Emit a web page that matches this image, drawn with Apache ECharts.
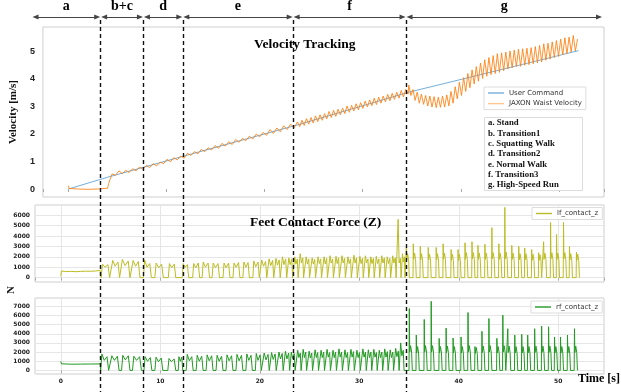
<!DOCTYPE html>
<html>
<head>
<meta charset="utf-8">
<title>Velocity Tracking</title>
<script src="https://cdn.jsdelivr.net/npm/echarts@6/dist/echarts.min.js"></script>
<style>
  html, body { margin: 0; padding: 0; background: #fff; }
  #chart { width: 621px; height: 392px; }
</style>
</head>
<body>
<div id="chart"></div>
<script>
// phases (s) and their names
const phaseBounds = [4.0, 8.3, 12.26, 23.35, 34.7];
const phaseLabels = ['a', 'b+c', 'd', 'e', 'f', 'g'];
const phaseNotes = ['a. Stand', 'b. Transition1', 'c. Squatting Walk', 'd. Transition2',
                    'e. Normal Walk', 'f. Transition3', 'g. High-Speed Run'];
const arrowFrom = -2.55, arrowTo = 54.1;

// user command (blue)
const cmdTime = [0, 4.0, 12.3, 23.35, 34.7, 52.0];
const cmdVel  = [0, 0.43, 1.25, 2.33, 3.52, 5.03];

// waist velocity (orange), stand part as [t, v], then evenly spaced runs
const waistStand = [[0, 0.12], [0.06, 0.02], [1, 0.0], [2, -0.01], [3, 0.0], [4.0, 0.03]];
const waistWalkStart = 4.1, waistWalkStep = 0.35;
const waistWalk = [
  0.20, 0.55, 0.50, 0.66, 0.56, 0.68, 0.60, 0.74, 0.66, 0.80,
  0.72, 0.86, 0.78, 0.92, 0.84, 0.98, 0.92, 1.08, 0.99, 1.14,
  1.06, 1.20, 1.12, 1.30, 1.22, 1.36, 1.28, 1.44, 1.36, 1.50,
  1.42, 1.58, 1.48, 1.66, 1.56, 1.72, 1.62, 1.80, 1.70, 1.84,
  1.76, 1.92, 1.82, 2.00, 1.90, 2.06, 1.95, 2.16, 2.02, 2.22,
  2.08, 2.30, 2.16, 2.36, 2.22
];
const waistTransStart = 23.35, waistTransStep = 0.23;
const waistTrans = [
  2.44, 2.27, 2.50, 2.31, 2.56, 2.36, 2.60, 2.40, 2.66, 2.45,
  2.70, 2.50, 2.74, 2.55, 2.82, 2.60, 2.86, 2.64, 2.90, 2.70,
  2.94, 2.74, 3.02, 2.79, 3.04, 2.84, 3.10, 2.88, 3.14, 2.93,
  3.20, 2.98, 3.24, 3.03, 3.30, 3.07, 3.34, 3.12, 3.38, 3.17,
  3.44, 3.21, 3.48, 3.26, 3.52, 3.30, 3.58, 3.35, 3.62, 3.45
];
const waistRunStart = 34.7, waistRunStep = 0.215;
const waistRun = [
  3.78, 3.40, 3.62, 3.22, 3.52, 3.12, 3.45, 3.08, 3.40, 3.02,
  3.38, 2.98, 3.36, 2.96, 3.34, 2.97, 3.38, 2.98, 3.42, 3.02,
  3.55, 3.12, 3.72, 3.28, 3.88, 3.40, 4.05, 3.55, 4.20, 3.68,
  4.33, 3.82, 4.45, 3.92, 4.58, 4.02, 4.70, 4.10, 4.78, 4.16,
  4.85, 4.20, 4.92, 4.24, 4.95, 4.30, 4.98, 4.36, 5.02, 4.40,
  5.05, 4.45, 5.08, 4.46, 5.10, 4.50, 5.12, 4.52, 5.14, 4.55,
  5.18, 4.58, 5.22, 4.62, 5.28, 4.68, 5.30, 4.72, 5.35, 4.78,
  5.40, 4.82, 5.45, 4.88, 5.50, 4.92, 5.52, 4.98, 5.58, 5.02,
  5.45
];

// contact forces (N)
// stand: [t, f]; walk steps: [on, off, peak1, dip, peak2]; run steps: [on, peak, dip, hump]
const lfStand = [[0, 120], [0.05, 640], [0.5, 580], [1, 600], [1.5, 570], [2, 600], [2.5, 620], [3, 610], [3.5, 640], [3.95, 690]];
const lfWalk = [
  [4.05, 4.9, 1300, 1000, 1250], [5.1, 5.9, 1650, 1100, 1500], [6.05, 6.95, 1750, 1150, 1600],
  [7.15, 7.95, 1650, 1100, 1550], [8.3, 9.1, 1700, 1000, 1350], [9.45, 10.3, 1400, 950, 1300],
  [10.8, 11.55, 1350, 950, 1300], [12.2, 12.85, 1350, 1000, 1250], [13.25, 13.95, 1350, 950, 1400],
  [14.2, 14.95, 1500, 1000, 1400], [15.2, 15.95, 1400, 950, 1350], [16.3, 17.0, 1400, 950, 1400],
  [17.3, 18.0, 1400, 1000, 1450], [18.3, 18.95, 1500, 1000, 1450], [19.3, 19.95, 1600, 1050, 1500],
  [20.1, 20.7, 1700, 1100, 1550], [20.85, 21.4, 1800, 1150, 1650], [21.55, 22.05, 1850, 1200, 1700],
  [22.2, 22.7, 2000, 1250, 1800], [22.85, 23.3, 1900, 1250, 1800],
  [23.45, 23.85, 2000, 1300, 1800], [24.0, 24.4, 2300, 1400, 1900], [24.6, 25.0, 2000, 1300, 1800],
  [25.2, 25.6, 1900, 1300, 1750], [25.8, 26.2, 2000, 1350, 1800], [26.4, 26.8, 2000, 1300, 1850],
  [27.0, 27.4, 2100, 1400, 1800], [27.6, 28.0, 2050, 1350, 1900], [28.2, 28.6, 2100, 1400, 1850],
  [28.8, 29.2, 2000, 1350, 1800], [29.4, 29.8, 2150, 1400, 1900], [30.0, 30.4, 2050, 1350, 1850],
  [30.55, 30.95, 2100, 1400, 1800], [31.1, 31.5, 2000, 1350, 1850], [31.65, 32.05, 2050, 1350, 1800],
  [32.2, 32.6, 2100, 1400, 1900], [32.75, 33.15, 2000, 1350, 1850], [33.3, 33.7, 2100, 1400, 1900],
  [33.85, 34.2, 5600, 1400, 1850], [34.3, 34.6, 2300, 1500, 2000]
];
const lfRun = [
  [34.7, 2900, 1700, 2300], [35.4, 3250, 1750, 2350], [36.1, 3000, 1700, 2300], [36.9, 2900, 1700, 2250],
  [37.7, 2900, 1700, 2300], [38.4, 3250, 1750, 2350], [39.2, 2700, 1650, 2250], [39.9, 2700, 1650, 2250],
  [40.6, 3350, 1750, 2400], [41.3, 3450, 1800, 2400], [41.9, 3100, 1750, 2350], [42.6, 3200, 1750, 2350],
  [43.3, 4800, 1800, 2400], [44.0, 3250, 1750, 2350], [44.6, 6750, 1800, 2450], [45.3, 3100, 1750, 2350],
  [46.0, 3000, 1700, 2300], [46.6, 2850, 1700, 2300], [47.3, 2700, 1650, 2250], [48.0, 2400, 1650, 2200],
  [48.5, 3450, 1750, 2350], [49.2, 5300, 1800, 2400], [49.8, 4150, 1750, 2350], [50.5, 5300, 1800, 2400],
  [51.1, 3000, 1700, 2300], [51.8, 2450, 1650, 2250]
];

const rfStand = [[0, 980], [0.05, 720], [1, 680], [2, 690], [3, 700], [3.95, 710]];
const rfWalk = [
  [4.0, 4.8, 1800, 1100, 1500], [5.0, 5.85, 1600, 1100, 1550], [6.1, 6.95, 1650, 1150, 1600],
  [7.2, 8.1, 1550, 1100, 1500], [8.35, 9.15, 1500, 1000, 1400], [9.45, 10.25, 1450, 950, 1350],
  [10.75, 11.55, 1300, 950, 1250], [11.8, 12.25, 1500, 1000, 1450], [12.6, 13.3, 1750, 1050, 1500],
  [13.6, 14.3, 1650, 1000, 1550], [14.6, 15.3, 1700, 1050, 1600], [15.6, 16.3, 1650, 1000, 1550],
  [16.6, 17.3, 1700, 1050, 1600], [17.6, 18.3, 1750, 1050, 1650], [18.6, 19.25, 1800, 1100, 1650],
  [19.55, 20.15, 1850, 1100, 1700], [20.35, 20.95, 1900, 1150, 1750], [21.1, 21.65, 1950, 1200, 1800],
  [21.85, 22.35, 2000, 1250, 1850], [22.5, 23.0, 2100, 1250, 1900], [23.1, 23.55, 2000, 1300, 1850],
  [23.75, 24.15, 2200, 1400, 1900], [24.3, 24.7, 2300, 1400, 2000], [24.9, 25.3, 2100, 1350, 1900],
  [25.5, 25.9, 2250, 1400, 1950], [26.1, 26.5, 2200, 1400, 2000], [26.7, 27.1, 2300, 1450, 1950],
  [27.3, 27.7, 2200, 1400, 2000], [27.9, 28.3, 2350, 1450, 2000], [28.5, 28.9, 2250, 1400, 1950],
  [29.1, 29.5, 2300, 1450, 2050], [29.7, 30.1, 2200, 1400, 1950], [30.3, 30.7, 2350, 1450, 2000],
  [30.85, 31.25, 2250, 1400, 2000], [31.4, 31.8, 2300, 1450, 1950], [31.95, 32.35, 2200, 1400, 2000],
  [32.5, 32.9, 2350, 1450, 2050], [33.05, 33.45, 2250, 1400, 2000], [33.6, 34.0, 2400, 1500, 2100],
  [34.1, 34.5, 3000, 1600, 2200]
];
const rfRun = [
  [35.0, 6750, 2000, 2700], [35.7, 3860, 1900, 2600], [36.5, 5560, 2000, 2700], [37.2, 7540, 2000, 2700],
  [38.0, 3500, 1900, 2600], [38.7, 4620, 1950, 2650], [39.4, 3540, 1900, 2600], [40.2, 3650, 1900, 2600],
  [40.9, 6320, 2000, 2700], [41.6, 2600, 1850, 2500], [42.3, 4260, 1950, 2650], [43.0, 5660, 2000, 2700],
  [43.8, 3500, 1900, 2600], [44.4, 6030, 2000, 2700], [44.9, 4550, 1950, 2650], [45.6, 3860, 1900, 2600],
  [46.3, 3940, 1900, 2600], [46.9, 3860, 1900, 2600], [47.6, 4550, 1950, 2650], [48.3, 4840, 1950, 2650],
  [49.0, 4760, 1950, 2650], [49.6, 3650, 1900, 2600], [50.2, 3650, 1900, 2600], [50.9, 3860, 1900, 2600],
  [51.6, 4550, 1950, 2650]
];

// ---- build line data ----
function evenly(start, step, values) {
  return values.map((v, i) => [+(start + i * step).toFixed(3), v]);
}
function contactTrace(stand, walk, run) {
  const pts = stand.slice();
  walk.forEach(([on, off, p1, dip, p2]) => {
    const d = off - on;
    pts.push([on, 0], [on + 0.15 * d, p1], [on + 0.45 * d, dip], [on + 0.8 * d, p2], [off, 0]);
  });
  run.forEach(([on, peak, dip, hump]) => {
    pts.push([on, 0], [on + 0.03, peak], [on + 0.07, dip], [on + 0.16, hump], [on + 0.26, dip], [on + 0.33, 0]);
  });
  return pts;
}

const cmdData = cmdTime.map((t, i) => [t, cmdVel[i]]);
const waistData = waistStand
  .concat(evenly(waistWalkStart, waistWalkStep, waistWalk))
  .concat(evenly(waistTransStart, waistTransStep, waistTrans))
  .concat(evenly(waistRunStart, waistRunStep, waistRun));
const lfData = contactTrace(lfStand, lfWalk, lfRun);
const rfData = contactTrace(rfStand, rfWalk, rfRun);

const serif = '"Liberation Serif", "Times New Roman", serif';
const sans = '"DejaVu Sans", sans-serif';
const X_MIN = -2.6, X_MAX = 54.6;
const plain = v => String(v);

function xAxisFor(gridIndex, withLabels, withGrid) {
  return {
    type: 'value', gridIndex: gridIndex, min: X_MIN, max: X_MAX,
    axisLine: { show: false },
    axisTick: { show: true, length: 3, lineStyle: { color: '#aaa' } },
    axisLabel: {
      show: withLabels, showMinLabel: false, showMaxLabel: false, margin: 4, formatter: plain,
      fontFamily: sans, fontWeight: 'bold', fontSize: 6, color: '#222'
    },
    splitLine: { show: withGrid, lineStyle: { color: '#e6e6e6' } }
  };
}
function yAxisFor(gridIndex, min, max, step, labelSize, margin, withGrid) {
  return {
    type: 'value', gridIndex: gridIndex, min: min, max: max,
    minInterval: step, maxInterval: step,
    axisLine: { show: false }, axisTick: { show: false },
    axisLabel: {
      showMinLabel: false, showMaxLabel: false, margin: margin, formatter: plain,
      fontFamily: sans, fontWeight: 'bold', fontSize: labelSize, color: '#222'
    },
    splitLine: { show: withGrid, lineStyle: { color: '#e6e6e6' } }
  };
}

const dashData = phaseBounds.map(t => [{ coord: [t, 20] }, { coord: [t, 392] }]);
const edges = [arrowFrom].concat(phaseBounds, [arrowTo]);
const arrowGap = 0.35;
const arrowData = phaseLabels.map((name, i) => [
  { name: name, coord: [edges[i] + (i === 0 ? 0 : arrowGap), 17] },
  { coord: [edges[i + 1] - (i === phaseLabels.length - 1 ? 0 : arrowGap), 17] }
]);

const chart = echarts.init(document.getElementById('chart'));
const yTop = yAxisFor(0, -0.29, 5.89, 1, 9, 8, false);
yTop.axisLabel.fontFamily = '"Liberation Sans", Arial, sans-serif';
yTop.name = 'Velocity [m/s]';
yTop.nameLocation = 'middle';
yTop.nameRotate = 90;
yTop.nameGap = 17;
yTop.nameTextStyle = { fontFamily: serif, fontWeight: 'bold', fontSize: 11, color: '#111' };

const legendBase = {
  padding: [2, 4, 2, 4], icon: 'rect', itemWidth: 16, itemHeight: 1.4,
  borderColor: '#ddd', borderWidth: 1, backgroundColor: '#fff',
  textStyle: { fontFamily: sans, fontSize: 7, lineHeight: 8, color: '#333' }
};

chart.setOption({
  animation: false,
  backgroundColor: '#fff',
  title: [
    { text: 'Velocity Tracking', left: 254, top: 38, padding: 0,
      textStyle: { fontFamily: serif, fontWeight: 'bold', fontSize: 13.5, color: '#000' } },
    { text: 'Feet Contact Force (Z)', left: 250, top: 215.5, padding: 0,
      textStyle: { fontFamily: serif, fontWeight: 'bold', fontSize: 13.5, color: '#000' } },
    { text: 'Time [s]', right: 1, top: 373, padding: 0,
      textStyle: { fontFamily: serif, fontWeight: 'bold', fontSize: 12, color: '#000' } },
    { text: phaseNotes.join('\n'), left: 484, top: 117, padding: [1, 24, 1, 4],
      borderColor: '#ddd', borderWidth: 1, backgroundColor: '#fff',
      textStyle: { fontFamily: serif, fontWeight: 'bold', fontSize: 8.75, lineHeight: 10.3, color: '#111' } }
  ],
  legend: [
    Object.assign({}, legendBase, {
      data: ['User Command', { name: 'JAXON Waist Velocity', itemStyle: { opacity: 0.45 } }],
      orient: 'vertical', left: 484, top: 87, itemGap: 2.6 }),
    Object.assign({}, legendBase, { data: ['lf_contact_z'], left: 532, top: 207.5 }),
    Object.assign({}, legendBase, { data: ['rf_contact_z'], left: 531, top: 301 })
  ],
  grid: [
    { left: 35, top: 27, width: 569, height: 170, show: true, borderColor: '#cfcfcf', borderWidth: 1 },
    { left: 35, top: 205, width: 569, height: 77, show: true, borderColor: '#cfcfcf', borderWidth: 1 },
    { left: 35, top: 298, width: 569, height: 76, show: true, borderColor: '#cfcfcf', borderWidth: 1 },
    { left: 35, top: 0, width: 569, height: 392 }
  ],
  xAxis: [
    xAxisFor(0, false, false),
    xAxisFor(1, false, true),
    xAxisFor(2, true, true),
    { type: 'value', gridIndex: 3, min: X_MIN, max: X_MAX, show: false }
  ],
  yAxis: [
    yTop,
    yAxisFor(1, -420, 6980, 1000, 6, 5, true),
    yAxisFor(2, -390, 7900, 1000, 6, 5, true),
    { type: 'value', gridIndex: 3, min: 0, max: 392, inverse: true, show: false }
  ],
  graphic: [
    { type: 'text', x: 11.5, y: 290, rotation: Math.PI / 2,
      style: { text: 'N', font: 'bold 11px ' + serif, fill: '#111', align: 'center', verticalAlign: 'middle' } }
  ],
  series: [
    { name: 'User Command', type: 'line', xAxisIndex: 0, yAxisIndex: 0, data: cmdData,
      symbol: 'none', lineStyle: { color: '#74aedb', width: 1 }, itemStyle: { color: '#74aedb' } },
    { name: 'JAXON Waist Velocity', type: 'line', xAxisIndex: 0, yAxisIndex: 0, data: waistData,
      symbol: 'none', lineStyle: { color: '#ff7f0e', width: 1, opacity: 0.85 }, itemStyle: { color: '#ff7f0e' } },
    { name: 'lf_contact_z', type: 'line', xAxisIndex: 1, yAxisIndex: 1, data: lfData,
      symbol: 'none', lineStyle: { color: '#bcbd22', width: 1 }, itemStyle: { color: '#bcbd22' } },
    { name: 'rf_contact_z', type: 'line', xAxisIndex: 2, yAxisIndex: 2, data: rfData,
      symbol: 'none', lineStyle: { color: '#239a23', width: 1 }, itemStyle: { color: '#239a23' } },
    { name: 'phases', type: 'line', xAxisIndex: 3, yAxisIndex: 3, data: [], z: 10,
      markLine: { silent: true, symbol: ['none', 'none'], label: { show: false },
        lineStyle: { color: '#111', width: 1.4, type: [4, 3] }, data: dashData } },
    { name: 'phaseArrows', type: 'line', xAxisIndex: 3, yAxisIndex: 3, data: [], z: 10,
      markLine: { silent: true, symbol: ['triangle', 'triangle'], symbolSize: [5, 6],
        lineStyle: { color: '#444', width: 1, type: 'solid' },
        label: { show: true, position: 'insideMiddleTop', distance: 4, formatter: '{b}',
          fontFamily: serif, fontWeight: 'bold', fontSize: 14, color: '#000' },
        data: arrowData } }
  ]
});
</script>
</body>
</html>
